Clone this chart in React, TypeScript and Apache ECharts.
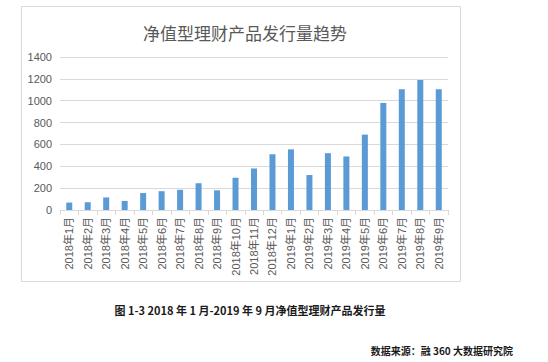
import React, { useEffect, useRef } from "react";
import * as echarts from "echarts";

const categories = [
  "2018年1月", "2018年2月", "2018年3月", "2018年4月", "2018年5月", "2018年6月",
  "2018年7月", "2018年8月", "2018年9月", "2018年10月", "2018年11月", "2018年12月",
  "2019年1月", "2019年2月", "2019年3月", "2019年4月", "2019年5月", "2019年6月",
  "2019年7月", "2019年8月", "2019年9月",
];
const issuance = [68, 71, 115, 83, 155, 172, 185, 245, 180, 295, 380, 510, 555, 320, 520, 490, 690, 980, 1105, 1190, 1105];

const chartTitle = "净值型理财产品发行量趋势";
const caption = "图 1-3 2018 年 1 月-2019 年 9 月净值型理财产品发行量";
const source = "数据来源：融 360 大数据研究院";

const FONT = "'Noto Sans CJK SC', 'Noto Sans', sans-serif";
const AXIS_FONT = "'Liberation Sans', 'Noto Sans CJK SC', sans-serif";

export default function App() {
  const ref = useRef<HTMLDivElement>(null);
  useEffect(() => {
    if (!ref.current) return;
    const chart = echarts.init(ref.current, undefined, { renderer: "svg" });
    chart.setOption({
      animation: false,
      backgroundColor: "#ffffff",
      textStyle: { fontFamily: FONT },
      title: {
        text: chartTitle,
        left: 240,
        textAlign: "center",
        top: 19,
        textStyle: { fontSize: 17, fontWeight: "normal", color: "#595959", fontFamily: FONT },
      },
      grid: { left: 60, right: 100, top: 57, bottom: 152, containLabel: false },
      xAxis: {
        type: "category",
        data: categories,
        axisLine: { lineStyle: { color: "#D9D9D9" } },
        axisTick: { show: true, length: 5, lineStyle: { color: "#D9D9D9" } },
        axisLabel: { rotate: 90, interval: 0, fontSize: 11, color: "#595959", margin: 7, fontFamily: AXIS_FONT },
      },
      yAxis: {
        type: "value",
        min: 0,
        max: 1400,
        interval: 200,
        axisLine: { show: false },
        axisTick: { show: false },
        splitLine: { lineStyle: { color: "#D9D9D9" } },
        axisLabel: {
          fontSize: 11,
          color: "#595959",
          margin: 8,
          fontFamily: AXIS_FONT,
          formatter: (v: number) => String(v),
        },
      },
      series: [
        {
          type: "bar",
          data: issuance,
          barWidth: 6,
          itemStyle: { color: "#5B9BD5" },
        },
      ],
      graphic: [
        {
          type: "rect",
          shape: { x: 21.5, y: 6.5, width: 439, height: 275 },
          style: { fill: "none", stroke: "#D9D9D9", lineWidth: 1 },
          silent: true,
        },
        {
          type: "text",
          x: 250,
          y: 310,
          style: {
            text: caption,
            fontSize: 11,
            fontWeight: "bold",
            fill: "#1a1a1a",
            fontFamily: FONT,
            textAlign: "center",
            textVerticalAlign: "middle",
          },
        },
        {
          type: "text",
          x: 513,
          y: 350,
          style: {
            text: source,
            fontSize: 10,
            fontWeight: "bold",
            fill: "#1a1a1a",
            fontFamily: FONT,
            textAlign: "right",
            textVerticalAlign: "middle",
          },
        },
      ],
    });
    return () => chart.dispose();
  }, []);
  return (
    <div
      ref={ref}
      style={{ position: "absolute", left: 0, top: 0, width: 548, height: 362 }}
    />
  );
}
